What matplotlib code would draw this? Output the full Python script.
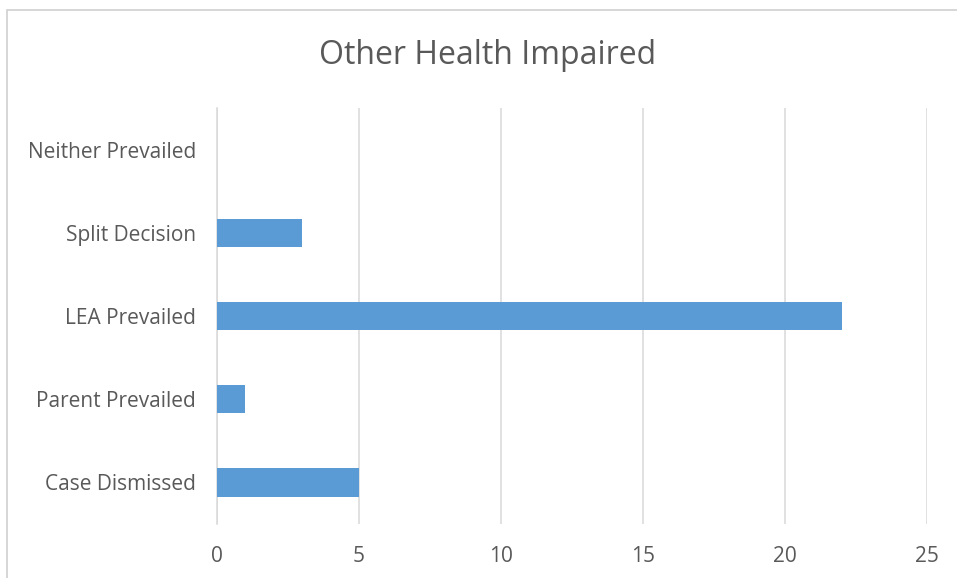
import matplotlib
matplotlib.use("Agg")
import matplotlib.pyplot as plt
from matplotlib.patches import Rectangle

# Outcome counts for the category
categories = ["Case Dismissed", "Parent Prevailed", "LEA Prevailed",
              "Split Decision", "Neither Prevailed"]
counts = [5, 1, 22, 3, 0]
x_ticks = [0, 5, 10, 15, 20, 25]

text_color = "#595959"
grid_color = "#d9d9d9"
bar_color = "#5b9bd5"

plt.rcParams["font.family"] = ["Open Sans", "DejaVu Sans"]

fig = plt.figure(figsize=(9.57, 5.78), dpi=100)
ax = fig.add_axes([217 / 957, 1 - 524 / 578, (927 - 217) / 957, (524 - 108) / 578])

ax.barh(range(len(categories)), counts, height=0.34, color=bar_color, zorder=3)

ax.set_xlim(0, 25)
ax.set_ylim(-0.5, len(categories) - 0.5)
ax.set_xticks(x_ticks)
ax.set_xticklabels([str(t) for t in x_ticks])
ax.set_yticks(range(len(categories)))
ax.set_yticklabels(categories)

ax.grid(True, axis="x", color=grid_color, linewidth=1.1, zorder=0)
for side in ["top", "right", "bottom"]:
    ax.spines[side].set_visible(False)
ax.spines["left"].set_color(grid_color)
ax.spines["left"].set_linewidth(1.1)

ax.tick_params(axis="both", length=0, colors=text_color, labelsize=15)
ax.tick_params(axis="y", pad=15)
ax.tick_params(axis="x", pad=16)

fig.text(488 / 957, 1 - 56 / 578, "Other Health Impaired", ha="center",
         va="center", fontsize=23, color=text_color)

# chart frame (top and left edges visible)
fig.patches.append(Rectangle((7.5 / 957, -0.1), 1.2, (578 - 9.5) / 578 + 0.1,
                             transform=fig.transFigure, fill=False,
                             edgecolor="#d0d0d0", linewidth=1.2))

fig.savefig("out.png", dpi=100)
